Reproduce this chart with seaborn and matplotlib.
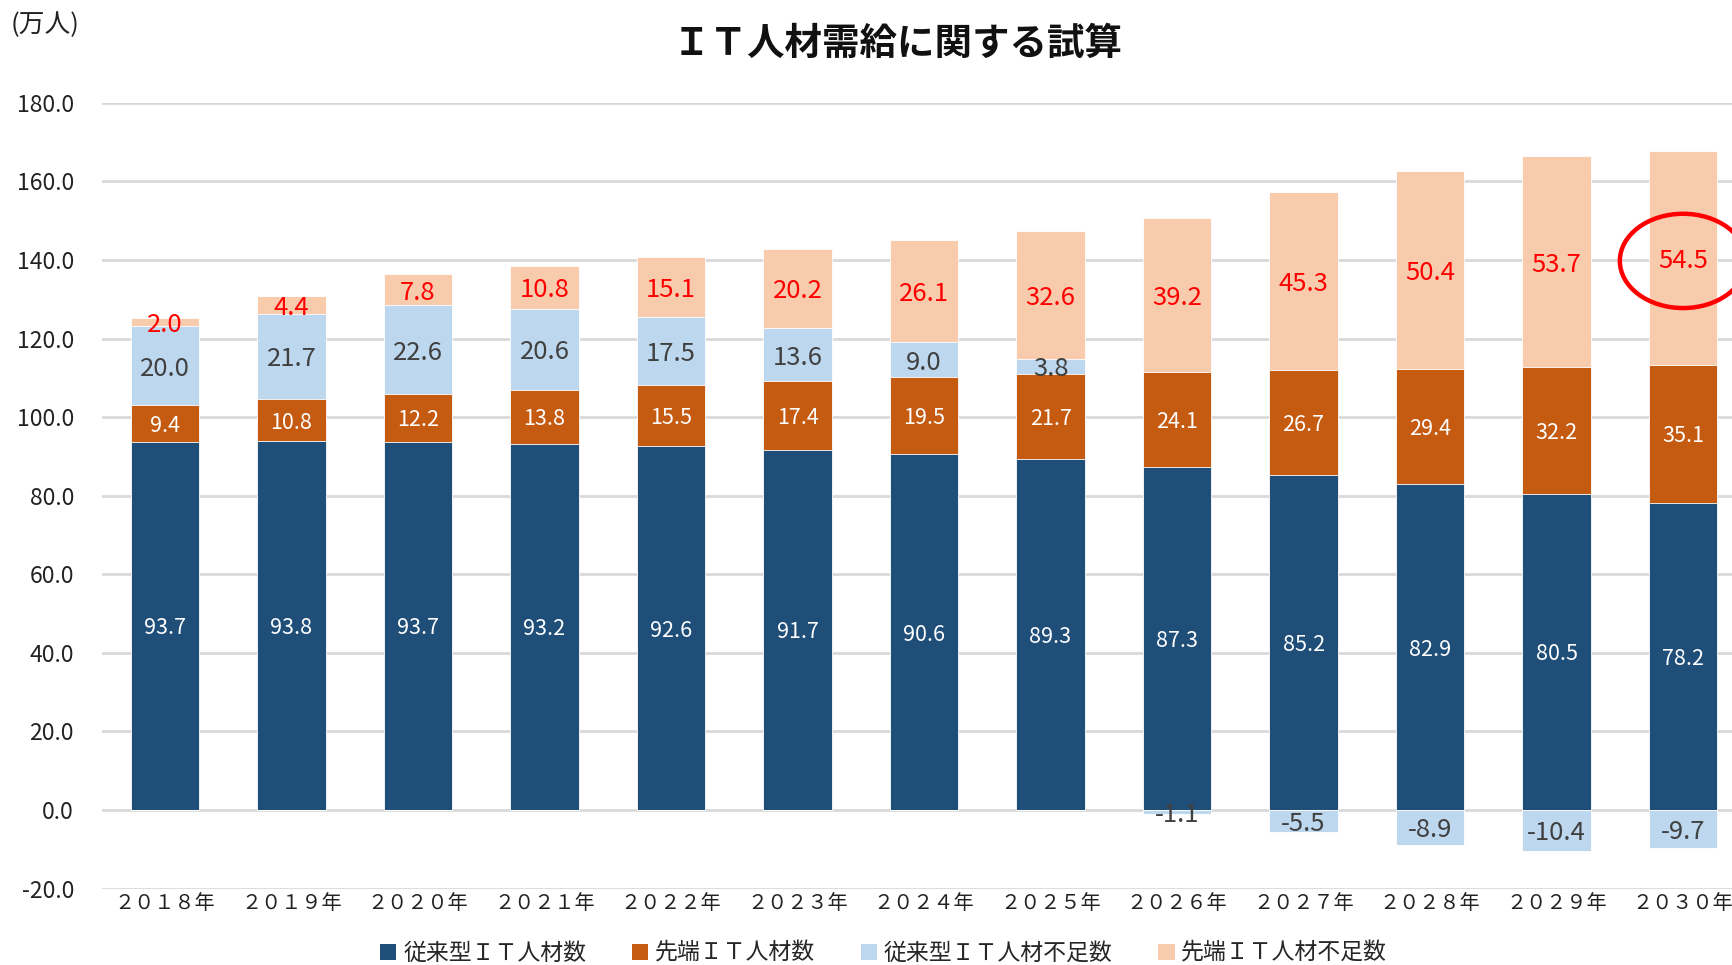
import matplotlib
matplotlib.use("Agg")
import matplotlib.pyplot as plt
import matplotlib.patches as mpatches
import numpy as np
import pandas as pd
import seaborn as sns

years = ["２０１８年", "２０１９年", "２０２０年", "２０２１年", "２０２２年", "２０２３年", "２０２４年",
         "２０２５年", "２０２６年", "２０２７年", "２０２８年", "２０２９年", "２０３０年"]
conventional = [93.7, 93.8, 93.7, 93.2, 92.6, 91.7, 90.6, 89.3, 87.3, 85.2, 82.9, 80.5, 78.2]
advanced = [9.4, 10.8, 12.2, 13.8, 15.5, 17.4, 19.5, 21.7, 24.1, 26.7, 29.4, 32.2, 35.1]
conv_shortage = [20.0, 21.7, 22.6, 20.6, 17.5, 13.6, 9.0, 3.8, -1.1, -5.5, -8.9, -10.4, -9.7]
adv_shortage = [2.0, 4.4, 7.8, 10.8, 15.1, 20.2, 26.1, 32.6, 39.2, 45.3, 50.4, 53.7, 54.5]

series_names = ["従来型ＩＴ人材数", "先端ＩＴ人材数", "従来型ＩＴ人材不足数", "先端ＩＴ人材不足数"]
colors = ["#1F4E79", "#C55A11", "#BDD7EE", "#F8CBAD"]
label_colors = ["white", "white", "#404040", "#FF0000"]
label_sizes = [15.5, 15.5, 18.5, 18.5]

sns.set_theme(style="white")
plt.rcParams['font.family'] = ['Noto Sans CJK JP', 'DejaVu Sans']

df = pd.DataFrame({"year": years, "conv": conventional, "adv": advanced,
                   "cs": conv_shortage, "as": adv_shortage})
df["cs_pos"] = df["cs"].clip(lower=0)
df["cs_neg"] = df["cs"].clip(upper=0)
df["b1"] = df["conv"]
df["b2"] = df["b1"] + df["adv"]
df["b3"] = df["b2"] + df["cs_pos"]
df["b4"] = df["b3"] + df["as"]

fig = plt.figure(figsize=(17.33, 9.65), dpi=100)
ax = fig.add_axes([0.0587, 0.0792, 0.949, 0.8143])

bw = 0.54
# draw cumulative totals back to front
for col, c in zip(["b4", "b3", "b2", "b1"], colors[::-1]):
    sns.barplot(data=df, x="year", y=col, color=c, width=bw, saturation=1,
                edgecolor="white", linewidth=0.6, ax=ax, zorder=3)
sns.barplot(data=df, x="year", y="cs_neg", color=colors[2], width=bw, saturation=1,
            edgecolor="white", linewidth=0.6, ax=ax, zorder=3)

# data labels
for i, row in df.iterrows():
    segs = [(0, row["conv"], row["conv"]),
            (row["b1"], row["adv"], row["adv"]),
            (row["b2"] if row["cs"] > 0 else 0, row["cs"], row["cs"]),
            (row["b3"], row["as"], row["as"])]
    for k, (base, h, v) in enumerate(segs):
        ax.text(i, base + h / 2, f"{v:.1f}", ha="center", va="center_baseline",
                color=label_colors[k], fontsize=label_sizes[k], zorder=5)

# highlight for the last year
last = len(df) - 1
ax.add_patch(mpatches.Ellipse((last, df.loc[last, "b3"] + df.loc[last, "as"] / 2 - 0.8),
                              width=1.0, height=24, fill=False, edgecolor="#FF0000",
                              linewidth=3.2, zorder=6, clip_on=False))

ax.set_xlim(-0.5, len(df) - 0.5)
ax.set_ylim(-20, 180)
ax.set_yticks(np.arange(-20, 181, 20))
ax.set_yticklabels([f"{t:.1f}" for t in np.arange(-20, 181, 20)], fontsize=16.5, color="#222222")
ax.set_xticks(range(len(df)))
ax.set_xticklabels(years, fontsize=14.5, color="#222222")
ax.tick_params(axis="x", length=0, pad=3)
ax.tick_params(axis="y", length=0, pad=20)
ax.set_xlabel("")
ax.set_ylabel("")
ax.yaxis.grid(True, color="#D9D9D9", linewidth=2, zorder=0)
ax.set_axisbelow(True)
for s in ax.spines.values():
    s.set_visible(False)

fig.text(0.518, 0.955, "ＩＴ人材需給に関する試算", ha="center", va="center",
         fontsize=27, fontweight="bold", color="#111111")
fig.text(0.006, 0.974, "(万人)", ha="left", va="center", fontsize=18.5, color="#222222")

handles = [mpatches.Patch(facecolor=c, edgecolor="none", label=n) for c, n in zip(colors, series_names)]
fig.legend(handles=handles, loc="center", bbox_to_anchor=(0.51, 0.012), ncol=4, frameon=False,
           fontsize=16.5, handlelength=0.7, handleheight=0.7, handletextpad=0.3, columnspacing=2.0)

fig.savefig("out.png", dpi=100)
